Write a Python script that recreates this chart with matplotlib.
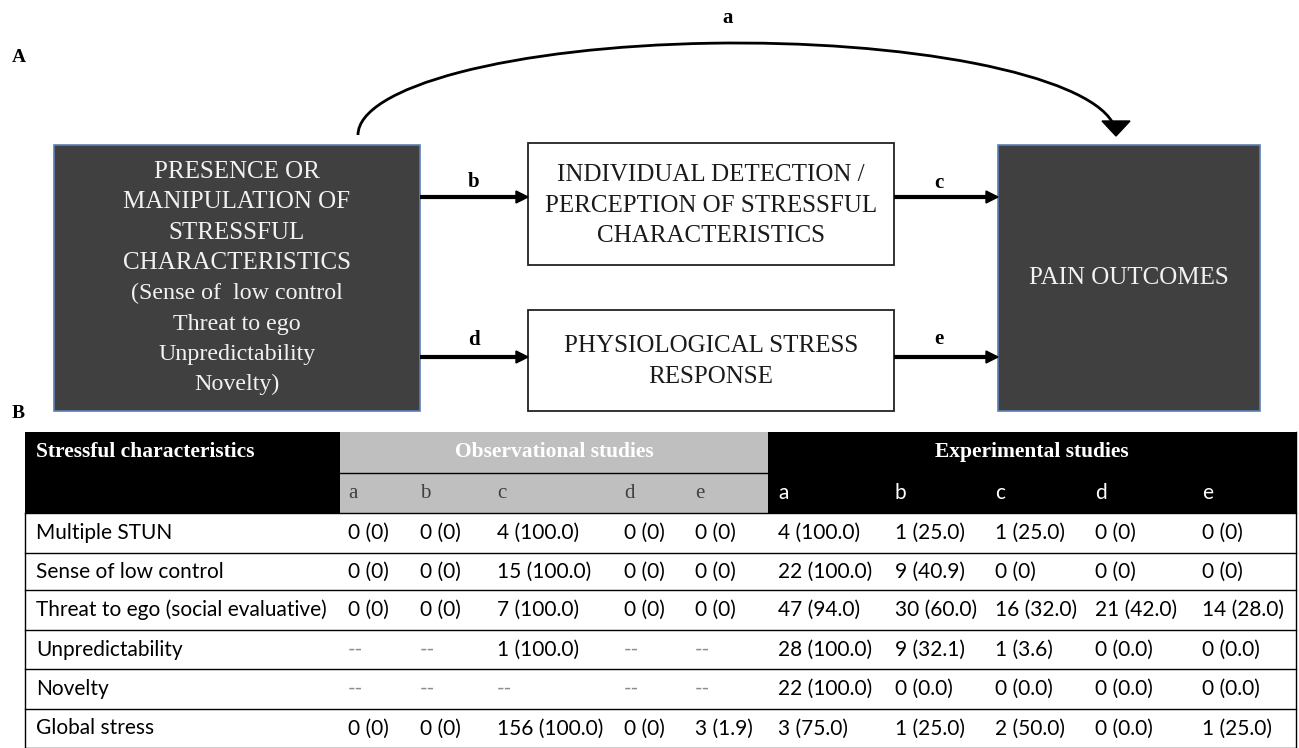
import matplotlib
matplotlib.use("Agg")
import matplotlib.pyplot as plt
from matplotlib.patches import Rectangle, Polygon, Arc

# ---------------- data ----------------
row_labels = ["Multiple STUN", "Sense of low control", "Threat to ego (social evaluative)",
              "Unpredictability", "Novelty", "Global stress"]
sub_labels = ["a", "b", "c", "d", "e"]
obs_values = [
    ["0 (0)", "0 (0)", "4 (100.0)", "0 (0)", "0 (0)"],
    ["0 (0)", "0 (0)", "15 (100.0)", "0 (0)", "0 (0)"],
    ["0 (0)", "0 (0)", "7 (100.0)", "0 (0)", "0 (0)"],
    ["--", "--", "1 (100.0)", "--", "--"],
    ["--", "--", "--", "--", "--"],
    ["0 (0)", "0 (0)", "156 (100.0)", "0 (0)", "3 (1.9)"],
]
exp_values = [
    ["4 (100.0)", "1 (25.0)", "1 (25.0)", "0 (0)", "0 (0)"],
    ["22 (100.0)", "9 (40.9)", "0 (0)", "0 (0)", "0 (0)"],
    ["47 (94.0)", "30 (60.0)", "16 (32.0)", "21 (42.0)", "14 (28.0)"],
    ["28 (100.0)", "9 (32.1)", "1 (3.6)", "0 (0.0)", "0 (0.0)"],
    ["22 (100.0)", "0 (0.0)", "0 (0.0)", "0 (0.0)", "0 (0.0)"],
    ["3 (75.0)", "1 (25.0)", "2 (50.0)", "0 (0.0)", "1 (25.0)"],
]
left_box_lines = ["PRESENCE OR", "MANIPULATION OF", "STRESSFUL", "CHARACTERISTICS",
                  "(Sense of  low control", "Threat to ego", "Unpredictability", "Novelty)"]
box1_lines = ["INDIVIDUAL DETECTION /", "PERCEPTION OF STRESSFUL", "CHARACTERISTICS"]
box2_lines = ["PHYSIOLOGICAL STRESS", "RESPONSE"]
right_box_text = "PAIN OUTCOMES"

SERIF = "Liberation Serif"
SANS = "Lato"
DARK = "#404040"
EDGE = "#5b7fb5"
BOXFS = 18

fig = plt.figure(figsize=(12.99, 7.48), dpi=100)
ax = fig.add_axes([0, 0, 1, 1])
ax.set_xlim(0, 1299)
ax.set_ylim(748, 0)
ax.axis("off")

# ---------------- Panel A ----------------
ax.text(12, 57, "A", fontfamily=SERIF, fontweight="bold", fontsize=14, va="center", ha="left")
ax.text(728, 18, "a", fontfamily=SERIF, fontweight="bold", fontsize=15, va="center", ha="center")

# boxes
ax.add_patch(Rectangle((54, 145), 366, 266, facecolor=DARK, edgecolor=EDGE, lw=1.2, zorder=2))
ax.add_patch(Rectangle((998, 145), 262, 266, facecolor=DARK, edgecolor=EDGE, lw=1.2, zorder=2))
ax.add_patch(Rectangle((528, 143), 366, 122, facecolor="white", edgecolor="#222222", lw=1.3, zorder=2))
ax.add_patch(Rectangle((528, 310), 366, 101, facecolor="white", edgecolor="#222222", lw=1.3, zorder=2))

for i, t in enumerate(left_box_lines):
    fs = BOXFS if t.isupper() else BOXFS - 0.7
    ax.text(237, 172 + i * 30.4, t, fontfamily=SERIF, fontsize=fs, color="#f2f2f2",
            ha="center", va="center", zorder=3)
for i, t in enumerate(box1_lines):
    ax.text(711, 175 + i * 30.5, t, fontfamily=SERIF, fontsize=BOXFS, color="#1a1a1a",
            ha="center", va="center", zorder=3)
for i, t in enumerate(box2_lines):
    ax.text(711, 346 + i * 30.5, t, fontfamily=SERIF, fontsize=BOXFS, color="#1a1a1a",
            ha="center", va="center", zorder=3)
ax.text(1129, 278, right_box_text, fontfamily=SERIF, fontsize=BOXFS, color="#f2f2f2",
        ha="center", va="center", zorder=3)


def harrow(x0, x1, y):
    ax.plot([x0, x1 - 10], [y, y], color="black", lw=3, solid_capstyle="butt", zorder=3)
    ax.add_patch(Polygon([[x1 - 12, y - 6], [x1, y], [x1 - 12, y + 6]], closed=True,
                         facecolor="black", edgecolor="black", zorder=3))


harrow(420, 528, 197)
harrow(894, 998, 197)
harrow(420, 528, 357)
harrow(894, 998, 357)
for lbl, x, y in [("b", 474, 182), ("d", 474, 340), ("c", 939, 183), ("e", 939, 339)]:
    ax.text(x, y, lbl, fontfamily=SERIF, fontweight="bold", fontsize=15, ha="center", va="center")

# curved arrow a (half-ellipse)
ax.add_patch(Arc((737, 135), 2 * 379, 2 * 92, theta1=180, theta2=358,
                 color="black", lw=2, zorder=3))
ax.add_patch(Polygon([[1102, 121], [1130, 121], [1116, 136]], closed=True,
                     facecolor="black", edgecolor="black", zorder=3))

# ---------------- Panel B ----------------
ax.text(12, 413, "B", fontfamily=SERIF, fontweight="bold", fontsize=14, va="center", ha="left")

tx0, tx1 = 25, 1296
ty_h1, ty_h2, ty_d = 432, 473, 513
row_edges = [513, 553, 590, 630, 669, 709, 748]
obs_x = [340, 412, 489, 616, 687]
exp_x = [768, 885, 985, 1085, 1192]
TFS = 15

# header backgrounds
ax.add_patch(Rectangle((tx0, ty_h1), 340 - tx0, ty_d - ty_h1, facecolor="black", edgecolor="none"))
ax.add_patch(Rectangle((340, ty_h1), 768 - 340, ty_d - ty_h1, facecolor="#bfbfbf", edgecolor="none"))
ax.add_patch(Rectangle((768, ty_h1), tx1 - 768, ty_d - ty_h1, facecolor="black", edgecolor="none"))
ax.plot([340, 768], [ty_h2, ty_h2], color="black", lw=1)

ax.text(36, 452, "Stressful characteristics", fontfamily=SERIF, fontweight="bold", fontsize=15.5,
        color="white", ha="left", va="center")
ax.text(554, 452, "Observational studies", fontfamily=SERIF, fontweight="bold", fontsize=15.5,
        color="white", ha="center", va="center")
ax.text(1032, 452, "Experimental studies", fontfamily=SERIF, fontweight="bold", fontsize=15.5,
        color="white", ha="center", va="center")
for j, s in enumerate(sub_labels):
    ax.text(obs_x[j] + 8, 493, s, fontfamily=SERIF, fontsize=15, color="#404040",
            ha="left", va="center")
    ax.text(exp_x[j] + 10, 493, s, fontfamily=SANS, fontsize=TFS, color="white",
            ha="left", va="center")

# grid lines
for y in row_edges:
    ax.plot([tx0, tx1], [y, y], color="black", lw=1)
ax.plot([tx0, tx0], [ty_d, 748], color="black", lw=1)
ax.plot([tx1, tx1], [ty_h1, 748], color="black", lw=1)

for i, lbl in enumerate(row_labels):
    yc = (row_edges[i] + row_edges[i + 1]) / 2
    ax.text(36, yc, lbl, fontfamily=SANS, fontsize=TFS, color="black", ha="left", va="center")
    for j in range(5):
        v = obs_values[i][j]
        ax.text(obs_x[j] + 8, yc, v, fontfamily=SANS, fontsize=TFS,
                color="#8c8c8c" if v == "--" else "black", ha="left", va="center")
        v = exp_values[i][j]
        ax.text(exp_x[j] + 10, yc, v, fontfamily=SANS, fontsize=TFS,
                color="#8c8c8c" if v == "--" else "black", ha="left", va="center")

fig.savefig("out.png", dpi=100)
